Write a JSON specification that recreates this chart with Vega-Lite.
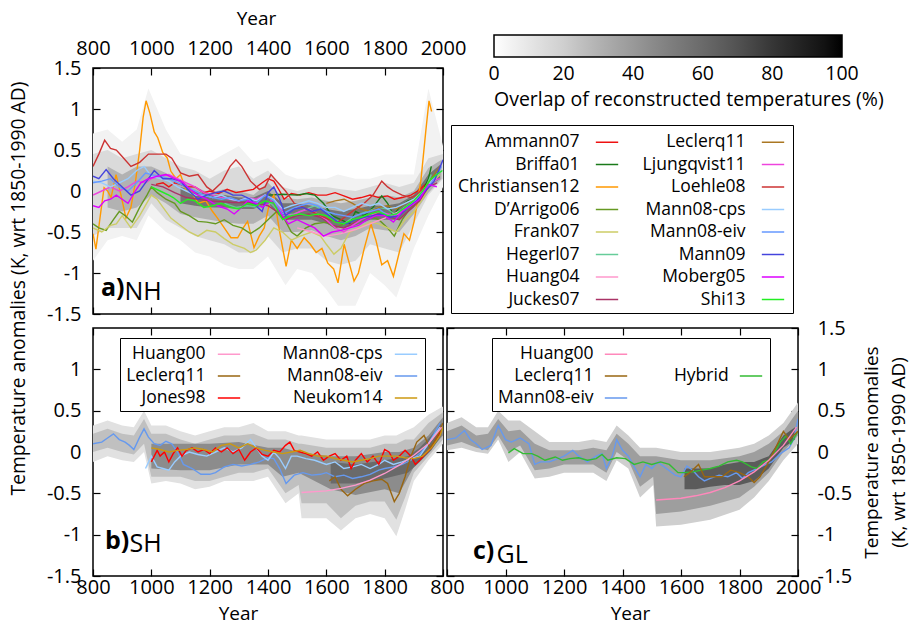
{
"$schema": "https://vega.github.io/schema/vega-lite/v6.json",
"background": "white",
"padding": {"left": 8, "top": 8, "right": 0, "bottom": 0},
"config": {
  "font": "Open Sans",
  "view": {"stroke": "black", "strokeWidth": 1.5},
  "axis": {"grid": false, "domain": false, "ticks": true, "tickColor": "black", "tickSize": -7, "tickWidth": 1.2,
    "labelFont": "Open Sans", "labelFontSize": 20, "labelColor": "black", "labelFlush": false, "labelOverlap": false, "labelBound": false,
    "titleFont": "Open Sans", "titleFontSize": 19, "titleFontWeight": "normal", "titleColor": "black", "titleLimit": 700},
  "legend": {"labelFont": "Open Sans", "titleFont": "Open Sans", "labelColor": "black", "titleColor": "black"},
  "title": {"font": "Open Sans", "color": "black"}
},
"datasets": {
"nhb": [
{"lev":"a","o":5,"x":800,"lo":-0.85,"hi":0.7},{"lev":"a","o":5,"x":850,"lo":-0.6,"hi":0.75},{"lev":"a","o":5,"x":900,"lo":-0.55,"hi":0.6},{"lev":"a","o":5,"x":950,"lo":-0.6,"hi":0.75},{"lev":"a","o":5,"x":990,"lo":-0.3,"hi":1.25},{"lev":"a","o":5,"x":1050,"lo":-0.5,"hi":0.75},{"lev":"a","o":5,"x":1100,"lo":-0.6,"hi":0.45},{"lev":"a","o":5,"x":1150,"lo":-0.75,"hi":0.4},{"lev":"a","o":5,"x":1200,"lo":-0.8,"hi":0.35},{"lev":"a","o":5,"x":1250,"lo":-0.9,"hi":0.45},{"lev":"a","o":5,"x":1300,"lo":-0.95,"hi":0.55},{"lev":"a","o":5,"x":1350,"lo":-0.95,"hi":0.35},{"lev":"a","o":5,"x":1400,"lo":-0.8,"hi":0.4},{"lev":"a","o":5,"x":1460,"lo":-1.15,"hi":0.2},{"lev":"a","o":5,"x":1500,"lo":-0.95,"hi":0.15},{"lev":"a","o":5,"x":1550,"lo":-1.0,"hi":0.15},{"lev":"a","o":5,"x":1600,"lo":-1.2,"hi":0.15},{"lev":"a","o":5,"x":1640,"lo":-1.4,"hi":0.2},{"lev":"a","o":5,"x":1700,"lo":-1.4,"hi":0.15},{"lev":"a","o":5,"x":1750,"lo":-1.0,"hi":0.15},{"lev":"a","o":5,"x":1800,"lo":-1.15,"hi":0.2},{"lev":"a","o":5,"x":1840,"lo":-1.3,"hi":0.2},{"lev":"a","o":5,"x":1900,"lo":-0.7,"hi":0.2},{"lev":"a","o":5,"x":1950,"lo":-0.3,"hi":1.25},{"lev":"a","o":5,"x":2000,"lo":0.05,"hi":0.55},
{"lev":"b","o":15,"x":800,"lo":-0.55,"hi":0.45},{"lev":"b","o":15,"x":850,"lo":-0.45,"hi":0.5},{"lev":"b","o":15,"x":900,"lo":-0.45,"hi":0.4},{"lev":"b","o":15,"x":950,"lo":-0.45,"hi":0.45},{"lev":"b","o":15,"x":1000,"lo":-0.15,"hi":0.5},{"lev":"b","o":15,"x":1050,"lo":-0.35,"hi":0.4},{"lev":"b","o":15,"x":1100,"lo":-0.45,"hi":0.3},{"lev":"b","o":15,"x":1150,"lo":-0.55,"hi":0.25},{"lev":"b","o":15,"x":1200,"lo":-0.6,"hi":0.15},{"lev":"b","o":15,"x":1250,"lo":-0.65,"hi":0.25},{"lev":"b","o":15,"x":1300,"lo":-0.75,"hi":0.3},{"lev":"b","o":15,"x":1350,"lo":-0.75,"hi":0.15},{"lev":"b","o":15,"x":1400,"lo":-0.55,"hi":0.25},{"lev":"b","o":15,"x":1450,"lo":-0.75,"hi":0.05},{"lev":"b","o":15,"x":1500,"lo":-0.7,"hi":0.0},{"lev":"b","o":15,"x":1550,"lo":-0.7,"hi":0.05},{"lev":"b","o":15,"x":1600,"lo":-0.85,"hi":0.05},{"lev":"b","o":15,"x":1650,"lo":-0.9,"hi":0.02},{"lev":"b","o":15,"x":1700,"lo":-0.85,"hi":0.0},{"lev":"b","o":15,"x":1750,"lo":-0.65,"hi":0.05},{"lev":"b","o":15,"x":1800,"lo":-0.7,"hi":0.1},{"lev":"b","o":15,"x":1850,"lo":-0.75,"hi":0.05},{"lev":"b","o":15,"x":1900,"lo":-0.4,"hi":0.1},{"lev":"b","o":15,"x":1950,"lo":-0.05,"hi":0.4},{"lev":"b","o":15,"x":2000,"lo":0.15,"hi":0.45},
{"lev":"c","o":30,"x":850,"lo":-0.2,"hi":0.3},{"lev":"c","o":30,"x":900,"lo":-0.25,"hi":0.2},{"lev":"c","o":30,"x":950,"lo":-0.2,"hi":0.3},{"lev":"c","o":30,"x":1000,"lo":-0.05,"hi":0.3},{"lev":"c","o":30,"x":1050,"lo":-0.15,"hi":0.22},{"lev":"c","o":30,"x":1100,"lo":-0.28,"hi":0.12},{"lev":"c","o":30,"x":1150,"lo":-0.32,"hi":0.05},{"lev":"c","o":30,"x":1200,"lo":-0.35,"hi":-0.02},{"lev":"c","o":30,"x":1250,"lo":-0.38,"hi":0.02},{"lev":"c","o":30,"x":1300,"lo":-0.4,"hi":0.0},{"lev":"c","o":30,"x":1350,"lo":-0.4,"hi":-0.05},{"lev":"c","o":30,"x":1400,"lo":-0.3,"hi":0.1},{"lev":"c","o":30,"x":1450,"lo":-0.5,"hi":-0.08},{"lev":"c","o":30,"x":1500,"lo":-0.5,"hi":-0.1},{"lev":"c","o":30,"x":1550,"lo":-0.48,"hi":-0.08},{"lev":"c","o":30,"x":1600,"lo":-0.55,"hi":-0.12},{"lev":"c","o":30,"x":1650,"lo":-0.6,"hi":-0.15},{"lev":"c","o":30,"x":1700,"lo":-0.55,"hi":-0.12},{"lev":"c","o":30,"x":1750,"lo":-0.45,"hi":-0.08},{"lev":"c","o":30,"x":1800,"lo":-0.48,"hi":-0.05},{"lev":"c","o":30,"x":1850,"lo":-0.5,"hi":-0.08},{"lev":"c","o":30,"x":1900,"lo":-0.28,"hi":0.0},{"lev":"c","o":30,"x":1950,"lo":-0.02,"hi":0.28},{"lev":"c","o":30,"x":1995,"lo":0.15,"hi":0.38},
{"lev":"d","o":55,"x":1100,"lo":-0.15,"hi":0.05},{"lev":"d","o":55,"x":1150,"lo":-0.18,"hi":0.0},{"lev":"d","o":55,"x":1200,"lo":-0.2,"hi":-0.05},{"lev":"d","o":55,"x":1250,"lo":-0.2,"hi":-0.05},{"lev":"d","o":55,"x":1300,"lo":-0.22,"hi":-0.08},{"lev":"d","o":55,"x":1350,"lo":-0.22,"hi":-0.08},{"lev":"d","o":55,"x":1400,"lo":-0.15,"hi":0.0},{"lev":"d","o":55,"x":1450,"lo":-0.35,"hi":-0.15},{"lev":"d","o":55,"x":1500,"lo":-0.35,"hi":-0.15},{"lev":"d","o":55,"x":1550,"lo":-0.35,"hi":-0.18},{"lev":"d","o":55,"x":1600,"lo":-0.4,"hi":-0.22},{"lev":"d","o":55,"x":1650,"lo":-0.45,"hi":-0.25},{"lev":"d","o":55,"x":1700,"lo":-0.42,"hi":-0.22},{"lev":"d","o":55,"x":1750,"lo":-0.35,"hi":-0.18},{"lev":"d","o":55,"x":1800,"lo":-0.35,"hi":-0.18},{"lev":"d","o":55,"x":1850,"lo":-0.35,"hi":-0.15},{"lev":"d","o":55,"x":1900,"lo":-0.2,"hi":-0.05},{"lev":"d","o":55,"x":1950,"lo":0.05,"hi":0.2},{"lev":"d","o":55,"x":1990,"lo":0.15,"hi":0.32}
],
"nh": [
{"s":"Ammann07","x":1016,"y":0.08},{"s":"Ammann07","x":1040,"y":0.1},{"s":"Ammann07","x":1060,"y":0.05},{"s":"Ammann07","x":1080,"y":0.1},{"s":"Ammann07","x":1100,"y":0.08},{"s":"Ammann07","x":1120,"y":0.05},{"s":"Ammann07","x":1150,"y":0.05},{"s":"Ammann07","x":1180,"y":-0.02},{"s":"Ammann07","x":1200,"y":0},{"s":"Ammann07","x":1230,"y":-0.03},{"s":"Ammann07","x":1260,"y":0.02},{"s":"Ammann07","x":1290,"y":-0.02},{"s":"Ammann07","x":1320,"y":0},{"s":"Ammann07","x":1350,"y":0.02},{"s":"Ammann07","x":1380,"y":0.1},{"s":"Ammann07","x":1400,"y":0.15},{"s":"Ammann07","x":1420,"y":0.12},{"s":"Ammann07","x":1440,"y":0},{"s":"Ammann07","x":1455,"y":-0.1},{"s":"Ammann07","x":1480,"y":-0.03},{"s":"Ammann07","x":1510,"y":-0.05},{"s":"Ammann07","x":1540,"y":-0.02},{"s":"Ammann07","x":1570,"y":-0.05},{"s":"Ammann07","x":1600,"y":-0.05},{"s":"Ammann07","x":1630,"y":-0.02},{"s":"Ammann07","x":1660,"y":-0.06},{"s":"Ammann07","x":1690,"y":-0.1},{"s":"Ammann07","x":1720,"y":-0.08},{"s":"Ammann07","x":1750,"y":-0.05},{"s":"Ammann07","x":1780,"y":-0.08},{"s":"Ammann07","x":1810,"y":-0.06},{"s":"Ammann07","x":1833,"y":-0.1},{"s":"Ammann07","x":1860,"y":-0.08},{"s":"Ammann07","x":1890,"y":-0.05},{"s":"Ammann07","x":1913,"y":0},{"s":"Ammann07","x":1940,"y":0.08},{"s":"Ammann07","x":1960,"y":0.12},{"s":"Ammann07","x":1980,"y":0.2},
{"s":"Briffa01","x":1402,"y":-0.05},{"s":"Briffa01","x":1450,"y":-0.04},{"s":"Briffa01","x":1500,"y":-0.05},{"s":"Briffa01","x":1530,"y":-0.03},{"s":"Briffa01","x":1560,"y":-0.05},{"s":"Briffa01","x":1590,"y":-0.15},{"s":"Briffa01","x":1620,"y":-0.3},{"s":"Briffa01","x":1650,"y":-0.35},{"s":"Briffa01","x":1680,"y":-0.4},{"s":"Briffa01","x":1700,"y":-0.25},{"s":"Briffa01","x":1730,"y":-0.3},{"s":"Briffa01","x":1760,"y":-0.2},{"s":"Briffa01","x":1790,"y":-0.06},{"s":"Briffa01","x":1810,"y":-0.15},{"s":"Briffa01","x":1830,"y":-0.3},{"s":"Briffa01","x":1850,"y":-0.2},{"s":"Briffa01","x":1880,"y":-0.12},{"s":"Briffa01","x":1900,"y":-0.1},{"s":"Briffa01","x":1930,"y":0},{"s":"Briffa01","x":1950,"y":0.15},{"s":"Briffa01","x":1960,"y":0.3},
{"s":"Christiansen12","x":800,"y":-0.52},{"s":"Christiansen12","x":810,"y":-0.71},{"s":"Christiansen12","x":825,"y":-0.3},{"s":"Christiansen12","x":838,"y":0.04},{"s":"Christiansen12","x":850,"y":0},{"s":"Christiansen12","x":862,"y":-0.08},{"s":"Christiansen12","x":879,"y":0.2},{"s":"Christiansen12","x":896,"y":-0.05},{"s":"Christiansen12","x":913,"y":-0.33},{"s":"Christiansen12","x":930,"y":-0.2},{"s":"Christiansen12","x":945,"y":0.1},{"s":"Christiansen12","x":960,"y":0.5},{"s":"Christiansen12","x":972,"y":0.9},{"s":"Christiansen12","x":982,"y":1.1},{"s":"Christiansen12","x":995,"y":0.95},{"s":"Christiansen12","x":1010,"y":0.72},{"s":"Christiansen12","x":1022,"y":0.65},{"s":"Christiansen12","x":1039,"y":0.47},{"s":"Christiansen12","x":1055,"y":0.4},{"s":"Christiansen12","x":1067,"y":0.24},{"s":"Christiansen12","x":1085,"y":0.15},{"s":"Christiansen12","x":1100,"y":0.2},{"s":"Christiansen12","x":1120,"y":0},{"s":"Christiansen12","x":1136,"y":0},{"s":"Christiansen12","x":1160,"y":-0.15},{"s":"Christiansen12","x":1187,"y":-0.12},{"s":"Christiansen12","x":1210,"y":-0.25},{"s":"Christiansen12","x":1227,"y":-0.33},{"s":"Christiansen12","x":1250,"y":-0.45},{"s":"Christiansen12","x":1273,"y":-0.57},{"s":"Christiansen12","x":1296,"y":-0.57},{"s":"Christiansen12","x":1315,"y":-0.45},{"s":"Christiansen12","x":1330,"y":-0.37},{"s":"Christiansen12","x":1352,"y":-0.69},{"s":"Christiansen12","x":1370,"y":-0.55},{"s":"Christiansen12","x":1387,"y":-0.45},{"s":"Christiansen12","x":1405,"y":-0.15},{"s":"Christiansen12","x":1420,"y":-0.05},{"s":"Christiansen12","x":1440,"y":-0.5},{"s":"Christiansen12","x":1462,"y":-0.92},{"s":"Christiansen12","x":1480,"y":-0.6},{"s":"Christiansen12","x":1500,"y":-0.7},{"s":"Christiansen12","x":1524,"y":-0.57},{"s":"Christiansen12","x":1545,"y":-0.65},{"s":"Christiansen12","x":1565,"y":-0.75},{"s":"Christiansen12","x":1585,"y":-0.7},{"s":"Christiansen12","x":1605,"y":-0.88},{"s":"Christiansen12","x":1625,"y":-0.95},{"s":"Christiansen12","x":1640,"y":-1.12},{"s":"Christiansen12","x":1661,"y":-0.65},{"s":"Christiansen12","x":1680,"y":-0.9},{"s":"Christiansen12","x":1695,"y":-1.1},{"s":"Christiansen12","x":1710,"y":-1.0},{"s":"Christiansen12","x":1730,"y":-0.7},{"s":"Christiansen12","x":1753,"y":-0.4},{"s":"Christiansen12","x":1770,"y":-0.6},{"s":"Christiansen12","x":1790,"y":-0.9},{"s":"Christiansen12","x":1810,"y":-0.85},{"s":"Christiansen12","x":1830,"y":-1.04},{"s":"Christiansen12","x":1850,"y":-0.75},{"s":"Christiansen12","x":1866,"y":-0.52},{"s":"Christiansen12","x":1885,"y":-0.6},{"s":"Christiansen12","x":1901,"y":-0.37},{"s":"Christiansen12","x":1924,"y":0.12},{"s":"Christiansen12","x":1941,"y":0.73},{"s":"Christiansen12","x":1952,"y":1.1},{"s":"Christiansen12","x":1961,"y":0.97},
{"s":"D’Arrigo06","x":800,"y":-0.4},{"s":"D’Arrigo06","x":820,"y":-0.45},{"s":"D’Arrigo06","x":845,"y":-0.48},{"s":"D’Arrigo06","x":870,"y":-0.35},{"s":"D’Arrigo06","x":890,"y":-0.25},{"s":"D’Arrigo06","x":910,"y":-0.3},{"s":"D’Arrigo06","x":935,"y":-0.38},{"s":"D’Arrigo06","x":960,"y":-0.2},{"s":"D’Arrigo06","x":985,"y":-0.05},{"s":"D’Arrigo06","x":1000,"y":0.05},{"s":"D’Arrigo06","x":1020,"y":-0.02},{"s":"D’Arrigo06","x":1050,"y":-0.1},{"s":"D’Arrigo06","x":1080,"y":-0.15},{"s":"D’Arrigo06","x":1100,"y":-0.25},{"s":"D’Arrigo06","x":1130,"y":-0.3},{"s":"D’Arrigo06","x":1160,"y":-0.37},{"s":"D’Arrigo06","x":1190,"y":-0.38},{"s":"D’Arrigo06","x":1220,"y":-0.4},{"s":"D’Arrigo06","x":1250,"y":-0.35},{"s":"D’Arrigo06","x":1280,"y":-0.42},{"s":"D’Arrigo06","x":1310,"y":-0.45},{"s":"D’Arrigo06","x":1340,"y":-0.52},{"s":"D’Arrigo06","x":1370,"y":-0.45},{"s":"D’Arrigo06","x":1400,"y":-0.35},{"s":"D’Arrigo06","x":1430,"y":-0.25},{"s":"D’Arrigo06","x":1450,"y":-0.3},{"s":"D’Arrigo06","x":1480,"y":-0.5},{"s":"D’Arrigo06","x":1500,"y":-0.55},{"s":"D’Arrigo06","x":1530,"y":-0.45},{"s":"D’Arrigo06","x":1560,"y":-0.4},{"s":"D’Arrigo06","x":1600,"y":-0.38},{"s":"D’Arrigo06","x":1630,"y":-0.45},{"s":"D’Arrigo06","x":1660,"y":-0.4},{"s":"D’Arrigo06","x":1700,"y":-0.35},{"s":"D’Arrigo06","x":1740,"y":-0.3},{"s":"D’Arrigo06","x":1780,"y":-0.35},{"s":"D’Arrigo06","x":1810,"y":-0.45},{"s":"D’Arrigo06","x":1833,"y":-0.55},{"s":"D’Arrigo06","x":1860,"y":-0.35},{"s":"D’Arrigo06","x":1890,"y":-0.2},{"s":"D’Arrigo06","x":1920,"y":-0.1},{"s":"D’Arrigo06","x":1950,"y":0.1},{"s":"D’Arrigo06","x":1985,"y":0.25},
{"s":"Frank07","x":800,"y":-0.45},{"s":"Frank07","x":830,"y":-0.5},{"s":"Frank07","x":860,"y":-0.42},{"s":"Frank07","x":880,"y":-0.4},{"s":"Frank07","x":900,"y":-0.3},{"s":"Frank07","x":930,"y":-0.45},{"s":"Frank07","x":960,"y":-0.3},{"s":"Frank07","x":1000,"y":-0.05},{"s":"Frank07","x":1020,"y":-0.1},{"s":"Frank07","x":1040,"y":-0.2},{"s":"Frank07","x":1067,"y":-0.33},{"s":"Frank07","x":1100,"y":-0.42},{"s":"Frank07","x":1130,"y":-0.5},{"s":"Frank07","x":1160,"y":-0.55},{"s":"Frank07","x":1190,"y":-0.48},{"s":"Frank07","x":1220,"y":-0.5},{"s":"Frank07","x":1250,"y":-0.58},{"s":"Frank07","x":1280,"y":-0.65},{"s":"Frank07","x":1319,"y":-0.7},{"s":"Frank07","x":1340,"y":-0.75},{"s":"Frank07","x":1360,"y":-0.72},{"s":"Frank07","x":1390,"y":-0.6},{"s":"Frank07","x":1420,"y":-0.45},{"s":"Frank07","x":1450,"y":-0.5},{"s":"Frank07","x":1480,"y":-0.6},{"s":"Frank07","x":1510,"y":-0.55},{"s":"Frank07","x":1550,"y":-0.5},{"s":"Frank07","x":1580,"y":-0.55},{"s":"Frank07","x":1600,"y":-0.65},{"s":"Frank07","x":1626,"y":-0.77},{"s":"Frank07","x":1650,"y":-0.7},{"s":"Frank07","x":1680,"y":-0.5},{"s":"Frank07","x":1710,"y":-0.45},{"s":"Frank07","x":1750,"y":-0.38},{"s":"Frank07","x":1780,"y":-0.4},{"s":"Frank07","x":1810,"y":-0.45},{"s":"Frank07","x":1840,"y":-0.5},{"s":"Frank07","x":1870,"y":-0.35},{"s":"Frank07","x":1900,"y":-0.25},{"s":"Frank07","x":1930,"y":-0.1},{"s":"Frank07","x":1960,"y":0.1},{"s":"Frank07","x":1990,"y":0.2},
{"s":"Hegerl07","x":1251,"y":-0.15},{"s":"Hegerl07","x":1290,"y":-0.2},{"s":"Hegerl07","x":1330,"y":-0.18},{"s":"Hegerl07","x":1370,"y":-0.2},{"s":"Hegerl07","x":1410,"y":-0.15},{"s":"Hegerl07","x":1450,"y":-0.3},{"s":"Hegerl07","x":1490,"y":-0.28},{"s":"Hegerl07","x":1530,"y":-0.22},{"s":"Hegerl07","x":1560,"y":-0.18},{"s":"Hegerl07","x":1600,"y":-0.25},{"s":"Hegerl07","x":1630,"y":-0.35},{"s":"Hegerl07","x":1660,"y":-0.4},{"s":"Hegerl07","x":1700,"y":-0.3},{"s":"Hegerl07","x":1740,"y":-0.25},{"s":"Hegerl07","x":1780,"y":-0.2},{"s":"Hegerl07","x":1810,"y":-0.22},{"s":"Hegerl07","x":1840,"y":-0.3},{"s":"Hegerl07","x":1870,"y":-0.2},{"s":"Hegerl07","x":1900,"y":-0.15},{"s":"Hegerl07","x":1930,"y":-0.05},{"s":"Hegerl07","x":1960,"y":0.2},
{"s":"Huang04","x":1500,"y":-0.45},{"s":"Huang04","x":1550,"y":-0.5},{"s":"Huang04","x":1600,"y":-0.55},{"s":"Huang04","x":1650,"y":-0.52},{"s":"Huang04","x":1700,"y":-0.47},{"s":"Huang04","x":1750,"y":-0.4},{"s":"Huang04","x":1800,"y":-0.33},{"s":"Huang04","x":1850,"y":-0.25},{"s":"Huang04","x":1900,"y":-0.12},{"s":"Huang04","x":1950,"y":0.05},{"s":"Huang04","x":1980,"y":0.15},
{"s":"Juckes07","x":1000,"y":0.08},{"s":"Juckes07","x":1040,"y":0.05},{"s":"Juckes07","x":1080,"y":-0.02},{"s":"Juckes07","x":1120,"y":-0.08},{"s":"Juckes07","x":1160,"y":-0.1},{"s":"Juckes07","x":1200,"y":-0.12},{"s":"Juckes07","x":1240,"y":-0.13},{"s":"Juckes07","x":1280,"y":-0.14},{"s":"Juckes07","x":1320,"y":-0.14},{"s":"Juckes07","x":1360,"y":-0.15},{"s":"Juckes07","x":1400,"y":-0.18},{"s":"Juckes07","x":1430,"y":-0.25},{"s":"Juckes07","x":1460,"y":-0.35},{"s":"Juckes07","x":1500,"y":-0.3},{"s":"Juckes07","x":1540,"y":-0.28},{"s":"Juckes07","x":1580,"y":-0.32},{"s":"Juckes07","x":1620,"y":-0.42},{"s":"Juckes07","x":1660,"y":-0.45},{"s":"Juckes07","x":1700,"y":-0.38},{"s":"Juckes07","x":1740,"y":-0.3},{"s":"Juckes07","x":1780,"y":-0.28},{"s":"Juckes07","x":1820,"y":-0.32},{"s":"Juckes07","x":1850,"y":-0.35},{"s":"Juckes07","x":1880,"y":-0.25},{"s":"Juckes07","x":1920,"y":-0.12},{"s":"Juckes07","x":1950,"y":0.05},{"s":"Juckes07","x":1980,"y":0.1},
{"s":"Leclerq11","x":1600,"y":-0.15},{"s":"Leclerq11","x":1630,"y":-0.12},{"s":"Leclerq11","x":1661,"y":-0.1},{"s":"Leclerq11","x":1690,"y":-0.15},{"s":"Leclerq11","x":1720,"y":-0.22},{"s":"Leclerq11","x":1750,"y":-0.25},{"s":"Leclerq11","x":1780,"y":-0.2},{"s":"Leclerq11","x":1810,"y":-0.18},{"s":"Leclerq11","x":1840,"y":-0.22},{"s":"Leclerq11","x":1870,"y":-0.15},{"s":"Leclerq11","x":1900,"y":-0.1},{"s":"Leclerq11","x":1930,"y":0},{"s":"Leclerq11","x":1960,"y":0.15},{"s":"Leclerq11","x":1990,"y":0.3},
{"s":"Ljungqvist11","x":800,"y":-0.05},{"s":"Ljungqvist11","x":830,"y":0},{"s":"Ljungqvist11","x":860,"y":0.05},{"s":"Ljungqvist11","x":890,"y":0},{"s":"Ljungqvist11","x":920,"y":0.05},{"s":"Ljungqvist11","x":950,"y":0.12},{"s":"Ljungqvist11","x":980,"y":0.1},{"s":"Ljungqvist11","x":1000,"y":0.15},{"s":"Ljungqvist11","x":1030,"y":0.18},{"s":"Ljungqvist11","x":1060,"y":0.2},{"s":"Ljungqvist11","x":1090,"y":0.15},{"s":"Ljungqvist11","x":1120,"y":0.1},{"s":"Ljungqvist11","x":1150,"y":0.05},{"s":"Ljungqvist11","x":1180,"y":-0.02},{"s":"Ljungqvist11","x":1210,"y":-0.05},{"s":"Ljungqvist11","x":1240,"y":-0.08},{"s":"Ljungqvist11","x":1270,"y":-0.1},{"s":"Ljungqvist11","x":1300,"y":-0.12},{"s":"Ljungqvist11","x":1330,"y":-0.08},{"s":"Ljungqvist11","x":1360,"y":-0.1},{"s":"Ljungqvist11","x":1390,"y":-0.05},{"s":"Ljungqvist11","x":1420,"y":-0.1},{"s":"Ljungqvist11","x":1450,"y":-0.25},{"s":"Ljungqvist11","x":1480,"y":-0.3},{"s":"Ljungqvist11","x":1510,"y":-0.25},{"s":"Ljungqvist11","x":1540,"y":-0.22},{"s":"Ljungqvist11","x":1570,"y":-0.28},{"s":"Ljungqvist11","x":1600,"y":-0.35},{"s":"Ljungqvist11","x":1630,"y":-0.45},{"s":"Ljungqvist11","x":1660,"y":-0.5},{"s":"Ljungqvist11","x":1690,"y":-0.42},{"s":"Ljungqvist11","x":1720,"y":-0.35},{"s":"Ljungqvist11","x":1750,"y":-0.3},{"s":"Ljungqvist11","x":1780,"y":-0.25},{"s":"Ljungqvist11","x":1810,"y":-0.28},{"s":"Ljungqvist11","x":1840,"y":-0.3},{"s":"Ljungqvist11","x":1870,"y":-0.22},{"s":"Ljungqvist11","x":1900,"y":-0.15},{"s":"Ljungqvist11","x":1930,"y":0},{"s":"Ljungqvist11","x":1960,"y":0.12},{"s":"Ljungqvist11","x":1990,"y":0.15},
{"s":"Loehle08","x":800,"y":0.3},{"s":"Loehle08","x":820,"y":0.45},{"s":"Loehle08","x":840,"y":0.62},{"s":"Loehle08","x":860,"y":0.52},{"s":"Loehle08","x":880,"y":0.5},{"s":"Loehle08","x":900,"y":0.42},{"s":"Loehle08","x":930,"y":0.3},{"s":"Loehle08","x":960,"y":0.35},{"s":"Loehle08","x":990,"y":0.45},{"s":"Loehle08","x":1020,"y":0.45},{"s":"Loehle08","x":1050,"y":0.45},{"s":"Loehle08","x":1070,"y":0.4},{"s":"Loehle08","x":1100,"y":0.22},{"s":"Loehle08","x":1130,"y":0.18},{"s":"Loehle08","x":1160,"y":0.2},{"s":"Loehle08","x":1190,"y":0.05},{"s":"Loehle08","x":1210,"y":0},{"s":"Loehle08","x":1240,"y":0.1},{"s":"Loehle08","x":1270,"y":0.3},{"s":"Loehle08","x":1290,"y":0.38},{"s":"Loehle08","x":1310,"y":0.3},{"s":"Loehle08","x":1340,"y":0.12},{"s":"Loehle08","x":1370,"y":0.02},{"s":"Loehle08","x":1390,"y":0.05},{"s":"Loehle08","x":1410,"y":0.2},{"s":"Loehle08","x":1430,"y":0.12},{"s":"Loehle08","x":1460,"y":0},{"s":"Loehle08","x":1490,"y":-0.15},{"s":"Loehle08","x":1520,"y":-0.2},{"s":"Loehle08","x":1550,"y":-0.25},{"s":"Loehle08","x":1580,"y":-0.3},{"s":"Loehle08","x":1610,"y":-0.35},{"s":"Loehle08","x":1640,"y":-0.38},{"s":"Loehle08","x":1670,"y":-0.3},{"s":"Loehle08","x":1700,"y":-0.22},{"s":"Loehle08","x":1730,"y":-0.15},{"s":"Loehle08","x":1760,"y":-0.05},{"s":"Loehle08","x":1790,"y":0.12},{"s":"Loehle08","x":1810,"y":0.05},{"s":"Loehle08","x":1830,"y":0},{"s":"Loehle08","x":1860,"y":-0.05},{"s":"Loehle08","x":1890,"y":-0.08},{"s":"Loehle08","x":1910,"y":-0.05},{"s":"Loehle08","x":1935,"y":0.05},
{"s":"Mann08-cps","x":800,"y":0.12},{"s":"Mann08-cps","x":830,"y":0.1},{"s":"Mann08-cps","x":860,"y":0.05},{"s":"Mann08-cps","x":890,"y":0.1},{"s":"Mann08-cps","x":920,"y":0.15},{"s":"Mann08-cps","x":950,"y":0.25},{"s":"Mann08-cps","x":975,"y":0.3},{"s":"Mann08-cps","x":1000,"y":0.18},{"s":"Mann08-cps","x":1030,"y":0.15},{"s":"Mann08-cps","x":1060,"y":0.12},{"s":"Mann08-cps","x":1090,"y":0.05},{"s":"Mann08-cps","x":1120,"y":0},{"s":"Mann08-cps","x":1150,"y":-0.05},{"s":"Mann08-cps","x":1180,"y":-0.05},{"s":"Mann08-cps","x":1210,"y":-0.08},{"s":"Mann08-cps","x":1240,"y":-0.05},{"s":"Mann08-cps","x":1270,"y":-0.1},{"s":"Mann08-cps","x":1300,"y":-0.12},{"s":"Mann08-cps","x":1330,"y":-0.08},{"s":"Mann08-cps","x":1360,"y":-0.12},{"s":"Mann08-cps","x":1390,"y":-0.05},{"s":"Mann08-cps","x":1420,"y":-0.1},{"s":"Mann08-cps","x":1450,"y":-0.22},{"s":"Mann08-cps","x":1480,"y":-0.18},{"s":"Mann08-cps","x":1510,"y":-0.15},{"s":"Mann08-cps","x":1540,"y":-0.12},{"s":"Mann08-cps","x":1570,"y":-0.15},{"s":"Mann08-cps","x":1600,"y":-0.2},{"s":"Mann08-cps","x":1630,"y":-0.2},{"s":"Mann08-cps","x":1660,"y":-0.25},{"s":"Mann08-cps","x":1690,"y":-0.2},{"s":"Mann08-cps","x":1720,"y":-0.15},{"s":"Mann08-cps","x":1750,"y":-0.18},{"s":"Mann08-cps","x":1780,"y":-0.15},{"s":"Mann08-cps","x":1810,"y":-0.22},{"s":"Mann08-cps","x":1840,"y":-0.2},{"s":"Mann08-cps","x":1870,"y":-0.15},{"s":"Mann08-cps","x":1900,"y":-0.1},{"s":"Mann08-cps","x":1930,"y":0},{"s":"Mann08-cps","x":1960,"y":0.12},{"s":"Mann08-cps","x":1995,"y":0.25},
{"s":"Mann08-eiv","x":800,"y":0.1},{"s":"Mann08-eiv","x":830,"y":0.12},{"s":"Mann08-eiv","x":860,"y":0.15},{"s":"Mann08-eiv","x":890,"y":0.05},{"s":"Mann08-eiv","x":920,"y":0},{"s":"Mann08-eiv","x":950,"y":0.1},{"s":"Mann08-eiv","x":980,"y":0.22},{"s":"Mann08-eiv","x":1000,"y":0.2},{"s":"Mann08-eiv","x":1030,"y":0.18},{"s":"Mann08-eiv","x":1060,"y":0.15},{"s":"Mann08-eiv","x":1090,"y":0.1},{"s":"Mann08-eiv","x":1120,"y":0.05},{"s":"Mann08-eiv","x":1150,"y":0},{"s":"Mann08-eiv","x":1180,"y":-0.05},{"s":"Mann08-eiv","x":1210,"y":-0.08},{"s":"Mann08-eiv","x":1240,"y":-0.1},{"s":"Mann08-eiv","x":1270,"y":-0.08},{"s":"Mann08-eiv","x":1300,"y":-0.12},{"s":"Mann08-eiv","x":1330,"y":-0.1},{"s":"Mann08-eiv","x":1360,"y":-0.15},{"s":"Mann08-eiv","x":1390,"y":-0.05},{"s":"Mann08-eiv","x":1420,"y":-0.12},{"s":"Mann08-eiv","x":1450,"y":-0.28},{"s":"Mann08-eiv","x":1480,"y":-0.22},{"s":"Mann08-eiv","x":1510,"y":-0.18},{"s":"Mann08-eiv","x":1540,"y":-0.15},{"s":"Mann08-eiv","x":1570,"y":-0.18},{"s":"Mann08-eiv","x":1600,"y":-0.25},{"s":"Mann08-eiv","x":1630,"y":-0.28},{"s":"Mann08-eiv","x":1660,"y":-0.3},{"s":"Mann08-eiv","x":1690,"y":-0.32},{"s":"Mann08-eiv","x":1720,"y":-0.28},{"s":"Mann08-eiv","x":1750,"y":-0.25},{"s":"Mann08-eiv","x":1780,"y":-0.22},{"s":"Mann08-eiv","x":1810,"y":-0.3},{"s":"Mann08-eiv","x":1840,"y":-0.28},{"s":"Mann08-eiv","x":1870,"y":-0.2},{"s":"Mann08-eiv","x":1900,"y":-0.15},{"s":"Mann08-eiv","x":1930,"y":-0.02},{"s":"Mann08-eiv","x":1960,"y":0.1},{"s":"Mann08-eiv","x":1995,"y":0.3},
{"s":"Mann09","x":800,"y":0.18},{"s":"Mann09","x":820,"y":0.15},{"s":"Mann09","x":845,"y":0.26},{"s":"Mann09","x":870,"y":0.15},{"s":"Mann09","x":900,"y":0.05},{"s":"Mann09","x":930,"y":-0.05},{"s":"Mann09","x":960,"y":0},{"s":"Mann09","x":990,"y":0.15},{"s":"Mann09","x":1010,"y":0.25},{"s":"Mann09","x":1040,"y":0.15},{"s":"Mann09","x":1070,"y":0.15},{"s":"Mann09","x":1100,"y":0.12},{"s":"Mann09","x":1130,"y":0},{"s":"Mann09","x":1160,"y":-0.1},{"s":"Mann09","x":1190,"y":-0.05},{"s":"Mann09","x":1220,"y":-0.02},{"s":"Mann09","x":1250,"y":0},{"s":"Mann09","x":1280,"y":-0.05},{"s":"Mann09","x":1310,"y":-0.05},{"s":"Mann09","x":1340,"y":-0.1},{"s":"Mann09","x":1365,"y":-0.2},{"s":"Mann09","x":1380,"y":-0.25},{"s":"Mann09","x":1400,"y":-0.02},{"s":"Mann09","x":1420,"y":0.05},{"s":"Mann09","x":1440,"y":-0.1},{"s":"Mann09","x":1460,"y":-0.3},{"s":"Mann09","x":1490,"y":-0.22},{"s":"Mann09","x":1520,"y":-0.2},{"s":"Mann09","x":1550,"y":-0.25},{"s":"Mann09","x":1580,"y":-0.22},{"s":"Mann09","x":1610,"y":-0.3},{"s":"Mann09","x":1640,"y":-0.38},{"s":"Mann09","x":1670,"y":-0.4},{"s":"Mann09","x":1700,"y":-0.35},{"s":"Mann09","x":1730,"y":-0.32},{"s":"Mann09","x":1760,"y":-0.3},{"s":"Mann09","x":1790,"y":-0.28},{"s":"Mann09","x":1820,"y":-0.32},{"s":"Mann09","x":1850,"y":-0.3},{"s":"Mann09","x":1880,"y":-0.2},{"s":"Mann09","x":1910,"y":-0.12},{"s":"Mann09","x":1940,"y":0},{"s":"Mann09","x":1970,"y":0.12},{"s":"Mann09","x":2000,"y":0.38},
{"s":"Moberg05","x":800,"y":-0.18},{"s":"Moberg05","x":820,"y":-0.2},{"s":"Moberg05","x":840,"y":-0.12},{"s":"Moberg05","x":860,"y":-0.1},{"s":"Moberg05","x":880,"y":-0.05},{"s":"Moberg05","x":900,"y":-0.1},{"s":"Moberg05","x":920,"y":-0.15},{"s":"Moberg05","x":945,"y":0},{"s":"Moberg05","x":964,"y":0.1},{"s":"Moberg05","x":990,"y":0.15},{"s":"Moberg05","x":1020,"y":0.18},{"s":"Moberg05","x":1050,"y":0.2},{"s":"Moberg05","x":1080,"y":0.15},{"s":"Moberg05","x":1110,"y":0.1},{"s":"Moberg05","x":1136,"y":0.01},{"s":"Moberg05","x":1160,"y":-0.05},{"s":"Moberg05","x":1190,"y":-0.1},{"s":"Moberg05","x":1227,"y":-0.18},{"s":"Moberg05","x":1260,"y":-0.22},{"s":"Moberg05","x":1284,"y":-0.28},{"s":"Moberg05","x":1310,"y":-0.2},{"s":"Moberg05","x":1330,"y":-0.12},{"s":"Moberg05","x":1360,"y":-0.15},{"s":"Moberg05","x":1380,"y":-0.2},{"s":"Moberg05","x":1410,"y":-0.12},{"s":"Moberg05","x":1440,"y":-0.25},{"s":"Moberg05","x":1470,"y":-0.4},{"s":"Moberg05","x":1500,"y":-0.35},{"s":"Moberg05","x":1530,"y":-0.4},{"s":"Moberg05","x":1560,"y":-0.45},{"s":"Moberg05","x":1590,"y":-0.55},{"s":"Moberg05","x":1620,"y":-0.5},{"s":"Moberg05","x":1650,"y":-0.48},{"s":"Moberg05","x":1680,"y":-0.45},{"s":"Moberg05","x":1710,"y":-0.42},{"s":"Moberg05","x":1740,"y":-0.35},{"s":"Moberg05","x":1770,"y":-0.3},{"s":"Moberg05","x":1800,"y":-0.3},{"s":"Moberg05","x":1830,"y":-0.38},{"s":"Moberg05","x":1860,"y":-0.25},{"s":"Moberg05","x":1890,"y":-0.18},{"s":"Moberg05","x":1920,"y":-0.1},{"s":"Moberg05","x":1950,"y":0.08},{"s":"Moberg05","x":1979,"y":0.05},
{"s":"Shi13","x":1000,"y":0.05},{"s":"Shi13","x":1030,"y":0},{"s":"Shi13","x":1060,"y":-0.05},{"s":"Shi13","x":1075,"y":-0.08},{"s":"Shi13","x":1100,"y":-0.15},{"s":"Shi13","x":1125,"y":-0.1},{"s":"Shi13","x":1150,"y":-0.12},{"s":"Shi13","x":1180,"y":-0.2},{"s":"Shi13","x":1210,"y":-0.18},{"s":"Shi13","x":1240,"y":-0.15},{"s":"Shi13","x":1270,"y":-0.2},{"s":"Shi13","x":1300,"y":-0.22},{"s":"Shi13","x":1330,"y":-0.15},{"s":"Shi13","x":1360,"y":-0.18},{"s":"Shi13","x":1390,"y":-0.12},{"s":"Shi13","x":1420,"y":-0.15},{"s":"Shi13","x":1450,"y":-0.35},{"s":"Shi13","x":1480,"y":-0.3},{"s":"Shi13","x":1510,"y":-0.28},{"s":"Shi13","x":1540,"y":-0.3},{"s":"Shi13","x":1570,"y":-0.28},{"s":"Shi13","x":1600,"y":-0.3},{"s":"Shi13","x":1630,"y":-0.38},{"s":"Shi13","x":1660,"y":-0.4},{"s":"Shi13","x":1690,"y":-0.35},{"s":"Shi13","x":1720,"y":-0.32},{"s":"Shi13","x":1750,"y":-0.28},{"s":"Shi13","x":1780,"y":-0.25},{"s":"Shi13","x":1810,"y":-0.3},{"s":"Shi13","x":1840,"y":-0.28},{"s":"Shi13","x":1870,"y":-0.2},{"s":"Shi13","x":1900,"y":-0.12},{"s":"Shi13","x":1930,"y":0},{"s":"Shi13","x":1960,"y":0.15},{"s":"Shi13","x":1998,"y":0.25}
],
"shb": [
{"lev":"a","o":12,"x":800,"lo":-0.12,"hi":0.32},{"lev":"a","o":12,"x":850,"lo":-0.05,"hi":0.38},{"lev":"a","o":12,"x":900,"lo":-0.1,"hi":0.32},{"lev":"a","o":12,"x":940,"lo":-0.12,"hi":0.3},{"lev":"a","o":12,"x":975,"lo":0.0,"hi":0.5},{"lev":"a","o":12,"x":1000,"lo":-0.38,"hi":0.32},{"lev":"a","o":12,"x":1050,"lo":-0.35,"hi":0.32},{"lev":"a","o":12,"x":1100,"lo":-0.38,"hi":0.25},{"lev":"a","o":12,"x":1150,"lo":-0.45,"hi":0.2},{"lev":"a","o":12,"x":1200,"lo":-0.42,"hi":0.25},{"lev":"a","o":12,"x":1250,"lo":-0.35,"hi":0.3},{"lev":"a","o":12,"x":1300,"lo":-0.35,"hi":0.3},{"lev":"a","o":12,"x":1350,"lo":-0.35,"hi":0.35},{"lev":"a","o":12,"x":1400,"lo":-0.3,"hi":0.25},{"lev":"a","o":12,"x":1460,"lo":-0.62,"hi":0.25},{"lev":"a","o":12,"x":1505,"lo":-0.5,"hi":0.2},{"lev":"a","o":12,"x":1515,"lo":-0.8,"hi":0.2},{"lev":"a","o":12,"x":1600,"lo":-0.8,"hi":0.15},{"lev":"a","o":12,"x":1650,"lo":-0.95,"hi":0.15},{"lev":"a","o":12,"x":1700,"lo":-0.8,"hi":0.15},{"lev":"a","o":12,"x":1750,"lo":-0.75,"hi":0.15},{"lev":"a","o":12,"x":1800,"lo":-0.8,"hi":0.2},{"lev":"a","o":12,"x":1840,"lo":-1.02,"hi":0.2},{"lev":"a","o":12,"x":1870,"lo":-0.7,"hi":0.25},{"lev":"a","o":12,"x":1900,"lo":-0.35,"hi":0.3},{"lev":"a","o":12,"x":1950,"lo":-0.1,"hi":0.45},{"lev":"a","o":12,"x":2000,"lo":0.1,"hi":0.55},
{"lev":"b","o":25,"x":800,"lo":0.0,"hi":0.22},{"lev":"b","o":25,"x":850,"lo":0.05,"hi":0.28},{"lev":"b","o":25,"x":900,"lo":0.0,"hi":0.22},{"lev":"b","o":25,"x":940,"lo":-0.03,"hi":0.2},{"lev":"b","o":25,"x":975,"lo":0.1,"hi":0.4},{"lev":"b","o":25,"x":1000,"lo":-0.3,"hi":0.22},{"lev":"b","o":25,"x":1050,"lo":-0.3,"hi":0.22},{"lev":"b","o":25,"x":1100,"lo":-0.3,"hi":0.15},{"lev":"b","o":25,"x":1150,"lo":-0.35,"hi":0.1},{"lev":"b","o":25,"x":1200,"lo":-0.35,"hi":0.15},{"lev":"b","o":25,"x":1250,"lo":-0.3,"hi":0.2},{"lev":"b","o":25,"x":1300,"lo":-0.25,"hi":0.2},{"lev":"b","o":25,"x":1350,"lo":-0.25,"hi":0.22},{"lev":"b","o":25,"x":1400,"lo":-0.2,"hi":0.15},{"lev":"b","o":25,"x":1460,"lo":-0.5,"hi":0.15},{"lev":"b","o":25,"x":1505,"lo":-0.4,"hi":0.1},{"lev":"b","o":25,"x":1515,"lo":-0.62,"hi":0.1},{"lev":"b","o":25,"x":1600,"lo":-0.62,"hi":0.05},{"lev":"b","o":25,"x":1650,"lo":-0.8,"hi":0.05},{"lev":"b","o":25,"x":1700,"lo":-0.65,"hi":0.05},{"lev":"b","o":25,"x":1750,"lo":-0.6,"hi":0.05},{"lev":"b","o":25,"x":1800,"lo":-0.6,"hi":0.1},{"lev":"b","o":25,"x":1840,"lo":-0.82,"hi":0.1},{"lev":"b","o":25,"x":1870,"lo":-0.55,"hi":0.15},{"lev":"b","o":25,"x":1900,"lo":-0.25,"hi":0.15},{"lev":"b","o":25,"x":1950,"lo":-0.05,"hi":0.35},{"lev":"b","o":25,"x":2000,"lo":0.15,"hi":0.48},
{"lev":"c","o":45,"x":1000,"lo":-0.2,"hi":0.1},{"lev":"c","o":45,"x":1100,"lo":-0.22,"hi":0.1},{"lev":"c","o":45,"x":1200,"lo":-0.22,"hi":0.1},{"lev":"c","o":45,"x":1300,"lo":-0.15,"hi":0.12},{"lev":"c","o":45,"x":1400,"lo":-0.15,"hi":0.05},{"lev":"c","o":45,"x":1450,"lo":-0.3,"hi":0.05},{"lev":"c","o":45,"x":1505,"lo":-0.25,"hi":0.0},{"lev":"c","o":45,"x":1615,"lo":-0.45,"hi":-0.05},{"lev":"c","o":45,"x":1700,"lo":-0.52,"hi":-0.05},{"lev":"c","o":45,"x":1800,"lo":-0.45,"hi":0.0},{"lev":"c","o":45,"x":1850,"lo":-0.5,"hi":0.0},{"lev":"c","o":45,"x":1900,"lo":-0.18,"hi":0.05},{"lev":"c","o":45,"x":1950,"lo":0.0,"hi":0.2},{"lev":"c","o":45,"x":2000,"lo":0.2,"hi":0.42},
{"lev":"d","o":60,"x":1615,"lo":-0.38,"hi":-0.12},{"lev":"d","o":60,"x":1700,"lo":-0.38,"hi":-0.15},{"lev":"d","o":60,"x":1800,"lo":-0.32,"hi":-0.1},{"lev":"d","o":60,"x":1880,"lo":-0.25,"hi":-0.05},{"lev":"d","o":60,"x":1920,"lo":-0.12,"hi":0.05},{"lev":"d","o":60,"x":1960,"lo":0.02,"hi":0.2},{"lev":"d","o":60,"x":1995,"lo":0.2,"hi":0.35}
],
"sh": [
{"s":"Mann08-eiv","x":800,"y":0.1},{"s":"Mann08-eiv","x":830,"y":0.12},{"s":"Mann08-eiv","x":850,"y":0.17},{"s":"Mann08-eiv","x":870,"y":0.22},{"s":"Mann08-eiv","x":890,"y":0.15},{"s":"Mann08-eiv","x":910,"y":0.12},{"s":"Mann08-eiv","x":925,"y":0.08},{"s":"Mann08-eiv","x":940,"y":0.03},{"s":"Mann08-eiv","x":960,"y":0.18},{"s":"Mann08-eiv","x":975,"y":0.28},{"s":"Mann08-eiv","x":990,"y":0.18},{"s":"Mann08-eiv","x":1010,"y":0.1},{"s":"Mann08-eiv","x":1030,"y":0.08},{"s":"Mann08-eiv","x":1050,"y":0.13},{"s":"Mann08-eiv","x":1070,"y":0.1},{"s":"Mann08-eiv","x":1090,"y":0},{"s":"Mann08-eiv","x":1110,"y":-0.15},{"s":"Mann08-eiv","x":1140,"y":-0.2},{"s":"Mann08-eiv","x":1170,"y":-0.27},{"s":"Mann08-eiv","x":1200,"y":-0.27},{"s":"Mann08-eiv","x":1220,"y":-0.25},{"s":"Mann08-eiv","x":1250,"y":-0.18},{"s":"Mann08-eiv","x":1280,"y":-0.15},{"s":"Mann08-eiv","x":1310,"y":-0.17},{"s":"Mann08-eiv","x":1340,"y":-0.15},{"s":"Mann08-eiv","x":1370,"y":-0.12},{"s":"Mann08-eiv","x":1400,"y":-0.07},{"s":"Mann08-eiv","x":1420,"y":-0.08},{"s":"Mann08-eiv","x":1440,"y":-0.2},{"s":"Mann08-eiv","x":1462,"y":-0.38},{"s":"Mann08-eiv","x":1490,"y":-0.28},{"s":"Mann08-eiv","x":1520,"y":-0.25},{"s":"Mann08-eiv","x":1550,"y":-0.28},{"s":"Mann08-eiv","x":1580,"y":-0.27},{"s":"Mann08-eiv","x":1600,"y":-0.25},{"s":"Mann08-eiv","x":1630,"y":-0.3},{"s":"Mann08-eiv","x":1660,"y":-0.28},{"s":"Mann08-eiv","x":1690,"y":-0.32},{"s":"Mann08-eiv","x":1720,"y":-0.3},{"s":"Mann08-eiv","x":1750,"y":-0.27},{"s":"Mann08-eiv","x":1780,"y":-0.22},{"s":"Mann08-eiv","x":1800,"y":-0.2},{"s":"Mann08-eiv","x":1830,"y":-0.18},{"s":"Mann08-eiv","x":1860,"y":-0.15},{"s":"Mann08-eiv","x":1890,"y":-0.1},{"s":"Mann08-eiv","x":1920,"y":-0.02},{"s":"Mann08-eiv","x":1950,"y":0.1},{"s":"Mann08-eiv","x":1990,"y":0.35},
{"s":"Mann08-cps","x":980,"y":-0.2},{"s":"Mann08-cps","x":1000,"y":-0.05},{"s":"Mann08-cps","x":1020,"y":-0.18},{"s":"Mann08-cps","x":1040,"y":-0.2},{"s":"Mann08-cps","x":1060,"y":-0.22},{"s":"Mann08-cps","x":1080,"y":-0.12},{"s":"Mann08-cps","x":1100,"y":-0.05},{"s":"Mann08-cps","x":1130,"y":0},{"s":"Mann08-cps","x":1160,"y":-0.03},{"s":"Mann08-cps","x":1190,"y":-0.05},{"s":"Mann08-cps","x":1220,"y":0},{"s":"Mann08-cps","x":1250,"y":0.05},{"s":"Mann08-cps","x":1280,"y":0},{"s":"Mann08-cps","x":1310,"y":0.05},{"s":"Mann08-cps","x":1340,"y":0.15},{"s":"Mann08-cps","x":1360,"y":0.05},{"s":"Mann08-cps","x":1380,"y":-0.05},{"s":"Mann08-cps","x":1400,"y":-0.1},{"s":"Mann08-cps","x":1420,"y":0},{"s":"Mann08-cps","x":1440,"y":-0.08},{"s":"Mann08-cps","x":1460,"y":-0.2},{"s":"Mann08-cps","x":1480,"y":-0.05},{"s":"Mann08-cps","x":1500,"y":-0.05},{"s":"Mann08-cps","x":1530,"y":-0.08},{"s":"Mann08-cps","x":1560,"y":-0.1},{"s":"Mann08-cps","x":1600,"y":-0.15},{"s":"Mann08-cps","x":1630,"y":-0.12},{"s":"Mann08-cps","x":1660,"y":-0.2},{"s":"Mann08-cps","x":1690,"y":-0.18},{"s":"Mann08-cps","x":1720,"y":-0.15},{"s":"Mann08-cps","x":1750,"y":-0.2},{"s":"Mann08-cps","x":1780,"y":-0.15},{"s":"Mann08-cps","x":1800,"y":-0.1},{"s":"Mann08-cps","x":1830,"y":-0.15},{"s":"Mann08-cps","x":1860,"y":-0.12},{"s":"Mann08-cps","x":1890,"y":-0.08},{"s":"Mann08-cps","x":1920,"y":-0.05},{"s":"Mann08-cps","x":1950,"y":0.1},{"s":"Mann08-cps","x":1990,"y":0.3},
{"s":"Jones98","x":1000,"y":-0.12},{"s":"Jones98","x":1010,"y":-0.05},{"s":"Jones98","x":1020,"y":0.02},{"s":"Jones98","x":1030,"y":-0.05},{"s":"Jones98","x":1045,"y":0},{"s":"Jones98","x":1060,"y":-0.12},{"s":"Jones98","x":1075,"y":-0.02},{"s":"Jones98","x":1090,"y":0.05},{"s":"Jones98","x":1105,"y":-0.05},{"s":"Jones98","x":1120,"y":0.02},{"s":"Jones98","x":1140,"y":0.05},{"s":"Jones98","x":1160,"y":0},{"s":"Jones98","x":1180,"y":0.03},{"s":"Jones98","x":1200,"y":-0.02},{"s":"Jones98","x":1220,"y":0.05},{"s":"Jones98","x":1240,"y":0},{"s":"Jones98","x":1260,"y":0.05},{"s":"Jones98","x":1280,"y":-0.02},{"s":"Jones98","x":1300,"y":0.03},{"s":"Jones98","x":1320,"y":-0.1},{"s":"Jones98","x":1340,"y":0},{"s":"Jones98","x":1360,"y":0.05},{"s":"Jones98","x":1380,"y":-0.03},{"s":"Jones98","x":1400,"y":-0.05},{"s":"Jones98","x":1420,"y":0.02},{"s":"Jones98","x":1440,"y":0},{"s":"Jones98","x":1460,"y":0.08},{"s":"Jones98","x":1475,"y":0.12},{"s":"Jones98","x":1490,"y":0.02},{"s":"Jones98","x":1510,"y":0},{"s":"Jones98","x":1530,"y":-0.02},{"s":"Jones98","x":1550,"y":-0.05},{"s":"Jones98","x":1570,"y":0},{"s":"Jones98","x":1590,"y":-0.1},{"s":"Jones98","x":1610,"y":-0.05},{"s":"Jones98","x":1630,"y":-0.02},{"s":"Jones98","x":1650,"y":-0.1},{"s":"Jones98","x":1670,"y":-0.05},{"s":"Jones98","x":1685,"y":-0.2},{"s":"Jones98","x":1700,"y":-0.1},{"s":"Jones98","x":1720,"y":-0.02},{"s":"Jones98","x":1740,"y":-0.12},{"s":"Jones98","x":1760,"y":-0.05},{"s":"Jones98","x":1780,"y":-0.15},{"s":"Jones98","x":1800,"y":0.03},{"s":"Jones98","x":1815,"y":0},{"s":"Jones98","x":1830,"y":-0.1},{"s":"Jones98","x":1850,"y":-0.05},{"s":"Jones98","x":1870,"y":0.02},{"s":"Jones98","x":1890,"y":-0.05},{"s":"Jones98","x":1905,"y":-0.15},{"s":"Jones98","x":1920,"y":-0.1},{"s":"Jones98","x":1940,"y":-0.02},{"s":"Jones98","x":1960,"y":0.05},{"s":"Jones98","x":1975,"y":0.15},{"s":"Jones98","x":1991,"y":0.25},
{"s":"Neukom14","x":1000,"y":0.05},{"s":"Neukom14","x":1030,"y":0.03},{"s":"Neukom14","x":1060,"y":0},{"s":"Neukom14","x":1090,"y":0.02},{"s":"Neukom14","x":1120,"y":0.03},{"s":"Neukom14","x":1150,"y":0.05},{"s":"Neukom14","x":1180,"y":0.03},{"s":"Neukom14","x":1210,"y":0},{"s":"Neukom14","x":1240,"y":0.08},{"s":"Neukom14","x":1270,"y":0.1},{"s":"Neukom14","x":1300,"y":0.05},{"s":"Neukom14","x":1330,"y":0.1},{"s":"Neukom14","x":1360,"y":0.05},{"s":"Neukom14","x":1390,"y":0.02},{"s":"Neukom14","x":1420,"y":0},{"s":"Neukom14","x":1450,"y":-0.02},{"s":"Neukom14","x":1480,"y":0},{"s":"Neukom14","x":1510,"y":0.02},{"s":"Neukom14","x":1540,"y":-0.02},{"s":"Neukom14","x":1570,"y":-0.05},{"s":"Neukom14","x":1600,"y":-0.05},{"s":"Neukom14","x":1630,"y":-0.08},{"s":"Neukom14","x":1660,"y":-0.1},{"s":"Neukom14","x":1690,"y":-0.12},{"s":"Neukom14","x":1720,"y":-0.1},{"s":"Neukom14","x":1750,"y":-0.08},{"s":"Neukom14","x":1780,"y":-0.05},{"s":"Neukom14","x":1810,"y":-0.05},{"s":"Neukom14","x":1840,"y":-0.05},{"s":"Neukom14","x":1870,"y":-0.07},{"s":"Neukom14","x":1900,"y":-0.08},{"s":"Neukom14","x":1930,"y":-0.05},{"s":"Neukom14","x":1960,"y":0.05},{"s":"Neukom14","x":1990,"y":0.2},{"s":"Neukom14","x":2000,"y":0.3},
{"s":"Leclerq11","x":1610,"y":-0.35},{"s":"Leclerq11","x":1630,"y":-0.3},{"s":"Leclerq11","x":1650,"y":-0.45},{"s":"Leclerq11","x":1673,"y":-0.53},{"s":"Leclerq11","x":1700,"y":-0.45},{"s":"Leclerq11","x":1730,"y":-0.38},{"s":"Leclerq11","x":1760,"y":-0.35},{"s":"Leclerq11","x":1790,"y":-0.33},{"s":"Leclerq11","x":1810,"y":-0.38},{"s":"Leclerq11","x":1833,"y":-0.6},{"s":"Leclerq11","x":1850,"y":-0.5},{"s":"Leclerq11","x":1870,"y":-0.3},{"s":"Leclerq11","x":1890,"y":-0.05},{"s":"Leclerq11","x":1910,"y":0.12},{"s":"Leclerq11","x":1935,"y":0.2},{"s":"Leclerq11","x":1955,"y":0.05},{"s":"Leclerq11","x":1975,"y":0.15},{"s":"Leclerq11","x":2000,"y":0.35},
{"s":"Huang00","x":1515,"y":-0.49},{"s":"Huang00","x":1600,"y":-0.47},{"s":"Huang00","x":1650,"y":-0.44},{"s":"Huang00","x":1700,"y":-0.4},{"s":"Huang00","x":1750,"y":-0.34},{"s":"Huang00","x":1800,"y":-0.26},{"s":"Huang00","x":1850,"y":-0.16},{"s":"Huang00","x":1900,"y":-0.04},{"s":"Huang00","x":1950,"y":0.1},{"s":"Huang00","x":1995,"y":0.3}
],
"glb": [
{"lev":"a","o":20,"x":800,"lo":0.02,"hi":0.35},{"lev":"a","o":20,"x":850,"lo":0.05,"hi":0.42},{"lev":"a","o":20,"x":900,"lo":0.0,"hi":0.3},{"lev":"a","o":20,"x":940,"lo":-0.02,"hi":0.3},{"lev":"a","o":20,"x":975,"lo":0.15,"hi":0.5},{"lev":"a","o":20,"x":1010,"lo":-0.12,"hi":0.38},{"lev":"a","o":20,"x":1050,"lo":0.0,"hi":0.38},{"lev":"a","o":20,"x":1100,"lo":-0.32,"hi":0.25},{"lev":"a","o":20,"x":1150,"lo":-0.3,"hi":0.12},{"lev":"a","o":20,"x":1200,"lo":-0.25,"hi":0.12},{"lev":"a","o":20,"x":1250,"lo":-0.25,"hi":0.12},{"lev":"a","o":20,"x":1300,"lo":-0.25,"hi":0.15},{"lev":"a","o":20,"x":1345,"lo":-0.35,"hi":0.12},{"lev":"a","o":20,"x":1380,"lo":-0.1,"hi":0.32},{"lev":"a","o":20,"x":1420,"lo":-0.2,"hi":0.2},{"lev":"a","o":20,"x":1460,"lo":-0.55,"hi":0.05},{"lev":"a","o":20,"x":1505,"lo":-0.4,"hi":0.05},{"lev":"a","o":20,"x":1515,"lo":-0.9,"hi":0.05},{"lev":"a","o":20,"x":1600,"lo":-0.88,"hi":0.0},{"lev":"a","o":20,"x":1700,"lo":-0.82,"hi":0.0},{"lev":"a","o":20,"x":1800,"lo":-0.7,"hi":0.05},{"lev":"a","o":20,"x":1850,"lo":-0.55,"hi":0.1},{"lev":"a","o":20,"x":1900,"lo":-0.35,"hi":0.2},{"lev":"a","o":20,"x":1950,"lo":-0.1,"hi":0.35},{"lev":"a","o":20,"x":2000,"lo":0.1,"hi":0.6},
{"lev":"b","o":38,"x":800,"lo":0.08,"hi":0.25},{"lev":"b","o":38,"x":850,"lo":0.12,"hi":0.32},{"lev":"b","o":38,"x":900,"lo":0.05,"hi":0.2},{"lev":"b","o":38,"x":940,"lo":0.02,"hi":0.22},{"lev":"b","o":38,"x":975,"lo":0.2,"hi":0.4},{"lev":"b","o":38,"x":1010,"lo":0.0,"hi":0.25},{"lev":"b","o":38,"x":1050,"lo":0.08,"hi":0.27},{"lev":"b","o":38,"x":1100,"lo":-0.22,"hi":0.1},{"lev":"b","o":38,"x":1150,"lo":-0.2,"hi":0.02},{"lev":"b","o":38,"x":1200,"lo":-0.15,"hi":0.02},{"lev":"b","o":38,"x":1250,"lo":-0.15,"hi":0.02},{"lev":"b","o":38,"x":1300,"lo":-0.15,"hi":0.05},{"lev":"b","o":38,"x":1345,"lo":-0.25,"hi":0.02},{"lev":"b","o":38,"x":1380,"lo":0.0,"hi":0.22},{"lev":"b","o":38,"x":1420,"lo":-0.1,"hi":0.1},{"lev":"b","o":38,"x":1460,"lo":-0.42,"hi":-0.05},{"lev":"b","o":38,"x":1505,"lo":-0.3,"hi":-0.05},{"lev":"b","o":38,"x":1515,"lo":-0.75,"hi":-0.05},{"lev":"b","o":38,"x":1600,"lo":-0.72,"hi":-0.1},{"lev":"b","o":38,"x":1700,"lo":-0.65,"hi":-0.1},{"lev":"b","o":38,"x":1800,"lo":-0.55,"hi":-0.05},{"lev":"b","o":38,"x":1850,"lo":-0.42,"hi":0.0},{"lev":"b","o":38,"x":1900,"lo":-0.25,"hi":0.1},{"lev":"b","o":38,"x":1950,"lo":0.0,"hi":0.25},{"lev":"b","o":38,"x":2000,"lo":0.2,"hi":0.5},
{"lev":"c","o":66,"x":1612,"lo":-0.45,"hi":-0.2},{"lev":"c","o":66,"x":1650,"lo":-0.45,"hi":-0.2},{"lev":"c","o":66,"x":1700,"lo":-0.42,"hi":-0.2},{"lev":"c","o":66,"x":1750,"lo":-0.4,"hi":-0.15},{"lev":"c","o":66,"x":1800,"lo":-0.4,"hi":-0.12},{"lev":"c","o":66,"x":1850,"lo":-0.35,"hi":-0.12},{"lev":"c","o":66,"x":1900,"lo":-0.2,"hi":-0.05},{"lev":"c","o":66,"x":1950,"lo":0.05,"hi":0.2},{"lev":"c","o":66,"x":1990,"lo":0.15,"hi":0.3}
],
"gl": [
{"s":"Mann08-eiv","x":800,"y":0.15},{"s":"Mann08-eiv","x":830,"y":0.17},{"s":"Mann08-eiv","x":860,"y":0.26},{"s":"Mann08-eiv","x":880,"y":0.15},{"s":"Mann08-eiv","x":900,"y":0.1},{"s":"Mann08-eiv","x":920,"y":0.03},{"s":"Mann08-eiv","x":950,"y":0.08},{"s":"Mann08-eiv","x":975,"y":0.32},{"s":"Mann08-eiv","x":1000,"y":0.15},{"s":"Mann08-eiv","x":1020,"y":0.12},{"s":"Mann08-eiv","x":1050,"y":0.17},{"s":"Mann08-eiv","x":1080,"y":0.1},{"s":"Mann08-eiv","x":1100,"y":-0.15},{"s":"Mann08-eiv","x":1120,"y":-0.12},{"s":"Mann08-eiv","x":1150,"y":-0.12},{"s":"Mann08-eiv","x":1180,"y":-0.08},{"s":"Mann08-eiv","x":1200,"y":-0.05},{"s":"Mann08-eiv","x":1230,"y":0.02},{"s":"Mann08-eiv","x":1250,"y":-0.05},{"s":"Mann08-eiv","x":1280,"y":-0.12},{"s":"Mann08-eiv","x":1310,"y":-0.05},{"s":"Mann08-eiv","x":1330,"y":-0.02},{"s":"Mann08-eiv","x":1345,"y":-0.2},{"s":"Mann08-eiv","x":1365,"y":-0.05},{"s":"Mann08-eiv","x":1380,"y":0.15},{"s":"Mann08-eiv","x":1400,"y":0.02},{"s":"Mann08-eiv","x":1420,"y":-0.05},{"s":"Mann08-eiv","x":1440,"y":-0.18},{"s":"Mann08-eiv","x":1460,"y":-0.3},{"s":"Mann08-eiv","x":1480,"y":-0.15},{"s":"Mann08-eiv","x":1500,"y":-0.2},{"s":"Mann08-eiv","x":1520,"y":-0.12},{"s":"Mann08-eiv","x":1550,"y":-0.2},{"s":"Mann08-eiv","x":1580,"y":-0.28},{"s":"Mann08-eiv","x":1600,"y":-0.3},{"s":"Mann08-eiv","x":1620,"y":-0.17},{"s":"Mann08-eiv","x":1640,"y":-0.22},{"s":"Mann08-eiv","x":1660,"y":-0.3},{"s":"Mann08-eiv","x":1680,"y":-0.35},{"s":"Mann08-eiv","x":1700,"y":-0.32},{"s":"Mann08-eiv","x":1730,"y":-0.28},{"s":"Mann08-eiv","x":1760,"y":-0.3},{"s":"Mann08-eiv","x":1790,"y":-0.25},{"s":"Mann08-eiv","x":1810,"y":-0.32},{"s":"Mann08-eiv","x":1830,"y":-0.25},{"s":"Mann08-eiv","x":1860,"y":-0.2},{"s":"Mann08-eiv","x":1890,"y":-0.15},{"s":"Mann08-eiv","x":1910,"y":-0.12},{"s":"Mann08-eiv","x":1940,"y":-0.02},{"s":"Mann08-eiv","x":1970,"y":0.05},{"s":"Mann08-eiv","x":1985,"y":0.15},{"s":"Mann08-eiv","x":2000,"y":0.4},
{"s":"Hybrid","x":1010,"y":-0.01},{"s":"Hybrid","x":1030,"y":0.04},{"s":"Hybrid","x":1060,"y":-0.02},{"s":"Hybrid","x":1090,"y":-0.02},{"s":"Hybrid","x":1110,"y":-0.05},{"s":"Hybrid","x":1135,"y":-0.1},{"s":"Hybrid","x":1170,"y":-0.06},{"s":"Hybrid","x":1195,"y":-0.1},{"s":"Hybrid","x":1220,"y":-0.08},{"s":"Hybrid","x":1250,"y":-0.07},{"s":"Hybrid","x":1280,"y":-0.1},{"s":"Hybrid","x":1310,"y":-0.08},{"s":"Hybrid","x":1330,"y":-0.03},{"s":"Hybrid","x":1350,"y":-0.1},{"s":"Hybrid","x":1380,"y":-0.07},{"s":"Hybrid","x":1410,"y":-0.08},{"s":"Hybrid","x":1440,"y":-0.15},{"s":"Hybrid","x":1470,"y":-0.12},{"s":"Hybrid","x":1500,"y":-0.15},{"s":"Hybrid","x":1530,"y":-0.12},{"s":"Hybrid","x":1560,"y":-0.15},{"s":"Hybrid","x":1590,"y":-0.25},{"s":"Hybrid","x":1610,"y":-0.25},{"s":"Hybrid","x":1640,"y":-0.24},{"s":"Hybrid","x":1670,"y":-0.22},{"s":"Hybrid","x":1700,"y":-0.2},{"s":"Hybrid","x":1730,"y":-0.17},{"s":"Hybrid","x":1760,"y":-0.12},{"s":"Hybrid","x":1790,"y":-0.1},{"s":"Hybrid","x":1810,"y":-0.12},{"s":"Hybrid","x":1840,"y":-0.18},{"s":"Hybrid","x":1860,"y":-0.2},{"s":"Hybrid","x":1880,"y":-0.12},{"s":"Hybrid","x":1900,"y":-0.1},{"s":"Hybrid","x":1920,"y":0},{"s":"Hybrid","x":1940,"y":0.12},{"s":"Hybrid","x":1960,"y":0.2},{"s":"Hybrid","x":1975,"y":0.1},{"s":"Hybrid","x":2000,"y":0.25},
{"s":"Leclerq11","x":1610,"y":-0.3},{"s":"Leclerq11","x":1630,"y":-0.25},{"s":"Leclerq11","x":1660,"y":-0.15},{"s":"Leclerq11","x":1680,"y":-0.3},{"s":"Leclerq11","x":1710,"y":-0.3},{"s":"Leclerq11","x":1740,"y":-0.3},{"s":"Leclerq11","x":1770,"y":-0.22},{"s":"Leclerq11","x":1800,"y":-0.25},{"s":"Leclerq11","x":1830,"y":-0.3},{"s":"Leclerq11","x":1850,"y":-0.37},{"s":"Leclerq11","x":1870,"y":-0.3},{"s":"Leclerq11","x":1900,"y":-0.12},{"s":"Leclerq11","x":1930,"y":0.1},{"s":"Leclerq11","x":1950,"y":0.25},{"s":"Leclerq11","x":1970,"y":0.15},{"s":"Leclerq11","x":2000,"y":0.25},
{"s":"Huang00","x":1515,"y":-0.58},{"s":"Huang00","x":1600,"y":-0.56},{"s":"Huang00","x":1650,"y":-0.53},{"s":"Huang00","x":1700,"y":-0.49},{"s":"Huang00","x":1750,"y":-0.43},{"s":"Huang00","x":1800,"y":-0.35},{"s":"Huang00","x":1850,"y":-0.24},{"s":"Huang00","x":1900,"y":-0.1},{"s":"Huang00","x":1950,"y":0.08},{"s":"Huang00","x":1995,"y":0.3}
]
},
"spacing": 14,
"bounds": "flush",
"resolve": {"scale": {"color": "independent"}, "legend": {"color": "independent"}},
"vconcat": [
{
  "width": 350, "height": 246,
  "title": {"text": "a)", "orient": "bottom", "anchor": "start", "frame": "group", "fontSize": 25, "fontWeight": "bold", "baseline": "alphabetic", "offset": -199, "dx": 8},
  "resolve": {"scale": {"color": "independent"}, "legend": {"color": "independent"}},
  "layer": [
    {"data": {"name": "nhb"}, "mark": {"type": "area", "clip": true},
     "encoding": {
      "x": {"field": "x", "type": "quantitative", "scale": {"domain": [800, 2000], "nice": false, "zero": false},
        "axis": {"orient": "bottom", "values": [800,1000,1200,1400,1600,1800,2000], "labels": false, "title": "NH", "titleX": 31, "titleY": -15, "titleAngle": 0, "titleAlign": "left", "titleBaseline": "alphabetic", "titleFontSize": 25}},
      "y": {"field": "lo", "type": "quantitative", "scale": {"domain": [-1.5, 1.5], "nice": false, "zero": false},
        "axis": {"orient": "left", "values": [-1.5,-1,-0.5,0,0.5,1,1.5], "format": "~g", "labelPadding": 19, "labelExpr": "replace(datum.label, '\u2212', '-')",
          "title": "Temperature anomalies (K, wrt 1850-1990 AD)", "titleX": -84, "titleY": 220, "titleAngle": 270, "titleAlign": "center", "titleBaseline": "top", "titleFontSize": 19.3}},
      "y2": {"field": "hi"},
      "detail": {"field": "lev"},
      "color": {"field": "o", "type": "quantitative",
        "scale": {"domain": [-0.01,10,20,30,40,50,60,70,80,90,100.01], "range": ["#ffffff","#e6e6e6","#cfcfcf","#b2b2b2","#999999","#808080","#6a6a6a","#525252","#363636","#1e1e1e","#000000"]},
        "legend": {"orient": "none", "legendX": 401, "legendY": -33, "direction": "horizontal", "gradientLength": 348, "gradientThickness": 22,
          "gradientStrokeColor": "black", "gradientStrokeWidth": 1.5, "values": [0,20,40,60,80,100], "labelFontSize": 19.5, "labelOffset": 8, "labelOverlap": false,
          "title": "Overlap of reconstructed temperatures (%)", "titleOrient": "bottom", "titleFontSize": 19.5, "titleFontWeight": "normal", "titlePadding": 7, "titleAnchor": "start", "titleLimit": 600, "padding": 0}}
     }},
    {"data": {"name": "nh"}, "mark": {"type": "line", "strokeWidth": 1.4, "clip": true},
     "encoding": {
      "x": {"field": "x", "type": "quantitative",
        "axis": {"orient": "top", "values": [800,1000,1200,1400,1600,1800,2000], "format": "d", "labelPadding": 17, "title": "Year", "titleX": 163, "titleY": -44, "titleBaseline": "alphabetic", "titleAlign": "center"}},
      "y": {"field": "y", "type": "quantitative", "axis": {"orient": "right", "values": [-1.5,-1,-0.5,0,0.5,1,1.5], "labels": false, "title": null}},
      "color": {"field": "s", "type": "nominal",
        "scale": {"domain": ["Ammann07","Briffa01","Christiansen12","D’Arrigo06","Frank07","Hegerl07","Huang04","Juckes07","Leclerq11","Ljungqvist11","Loehle08","Mann08-cps","Mann08-eiv","Mann09","Moberg05","Shi13"],
          "range": ["#ee1111","#1a7a1a","#ff9900","#669922","#cccc66","#66cc99","#ff99cc","#aa3366","#aa7722","#ee44dd","#cc3333","#99ccff","#6699ff","#4444dd","#dd00ff","#22ee22"]},
        "legend": {"orient": "none", "legendX": 358, "legendY": 57, "columns": 2, "title": null, "symbolType": "stroke", "symbolSize": 500, "symbolStrokeWidth": 1.5,
          "labelFontSize": 17.5, "labelAlign": "right", "labelOffset": -39.4, "symbolOffset": 139, "columnPadding": -5, "rowPadding": 1.5, "padding": 5,
          "strokeColor": "black", "fillColor": "white", "labelLimit": 400}}
     }}
  ]
},
{
  "hconcat": [
  {
    "width": 350, "height": 248,
    "title": {"text": "b)", "orient": "top", "anchor": "start", "frame": "group", "fontSize": 25, "fontWeight": "bold", "baseline": "alphabetic", "offset": -247, "dx": 12},
    "resolve": {"scale": {"color": "independent"}, "legend": {"color": "independent"}},
    "layer": [
      {"data": {"name": "shb"}, "mark": {"type": "area", "clip": true},
       "encoding": {
        "x": {"field": "x", "type": "quantitative", "scale": {"domain": [800, 2000], "nice": false, "zero": false},
          "axis": {"orient": "bottom", "values": [800,1000,1200,1400,1600,1800,2000], "format": "d", "labelExpr": "datum.value == 2000 ? '' : datum.label", "labelPadding": 8.5, "title": "Year", "titleX": 145, "titleY": 43, "titleBaseline": "alphabetic", "titleAlign": "center"}},
        "y": {"field": "lo", "type": "quantitative", "scale": {"domain": [-1.5, 1.5], "nice": false, "zero": false},
          "axis": {"orient": "left", "values": [-1.5,-1,-0.5,0,0.5,1], "format": "~g", "labelPadding": 19, "labelExpr": "replace(datum.label, '\u2212', '-')", "title": null}},
        "y2": {"field": "hi"},
        "detail": {"field": "lev"},
        "color": {"field": "o", "type": "quantitative",
          "scale": {"domain": [0,10,20,30,40,50,60,70,80,90,100], "range": ["#ffffff","#e6e6e6","#cfcfcf","#b2b2b2","#999999","#808080","#6a6a6a","#525252","#363636","#1e1e1e","#000000"]},
          "legend": null}
       }},
      {"data": {"name": "sh"}, "mark": {"type": "line", "strokeWidth": 1.4, "clip": true},
       "encoding": {
        "x": {"field": "x", "type": "quantitative",
          "axis": {"orient": "top", "values": [800,1000,1200,1400,1600,1800,2000], "labels": false, "title": "SH", "titleX": 36, "titleY": 223, "titleAngle": 0, "titleAlign": "left", "titleBaseline": "alphabetic", "titleFontSize": 25}},
        "y": {"field": "y", "type": "quantitative", "axis": {"orient": "right", "values": [-1.5,-1,-0.5,0,0.5,1,1.5], "labels": false, "title": null}},
        "color": {"field": "s", "type": "nominal",
          "scale": {"domain": ["Huang00","Leclerq11","Jones98","Mann08-cps","Mann08-eiv","Neukom14"], "range": ["#ff99cc","#996611","#ff0000","#99ccff","#6699ee","#cc9911"]},
          "legend": {"orient": "none", "legendX": 27, "legendY": 10, "columns": 2, "title": null, "symbolType": "stroke", "symbolSize": 500, "symbolStrokeWidth": 1.5,
            "labelFontSize": 17.5, "labelAlign": "right", "labelOffset": -35.4, "symbolOffset": 93, "columnPadding": 38, "rowPadding": 1, "padding": 4,
            "strokeColor": "black", "fillColor": "white", "labelLimit": 400}}
       }}
    ]
  },
  {
    "width": 351, "height": 248,
    "title": {"text": "c)", "orient": "top", "anchor": "start", "frame": "group", "fontSize": 25, "fontWeight": "bold", "baseline": "alphabetic", "offset": -266, "dx": 26},
    "resolve": {"scale": {"color": "independent"}, "legend": {"color": "independent"}},
    "layer": [
      {"data": {"name": "glb"}, "mark": {"type": "area", "clip": true},
       "encoding": {
        "x": {"field": "x", "type": "quantitative", "scale": {"domain": [800, 2000], "nice": false, "zero": false},
          "axis": {"orient": "bottom", "values": [800,1000,1200,1400,1600,1800,2000], "format": "d", "labelPadding": 8.5, "title": "Year", "titleX": 183, "titleY": 43, "titleBaseline": "alphabetic", "titleAlign": "center"}},
        "y": {"field": "lo", "type": "quantitative", "scale": {"domain": [-1.5, 1.5], "nice": false, "zero": false},
          "axis": {"orient": "left", "values": [-1.5,-1,-0.5,0,0.5,1,1.5], "labels": false, "title": null}},
        "y2": {"field": "hi"},
        "detail": {"field": "lev"},
        "color": {"field": "o", "type": "quantitative",
          "scale": {"domain": [0,10,20,30,40,50,60,70,80,90,100], "range": ["#ffffff","#e6e6e6","#cfcfcf","#b2b2b2","#999999","#808080","#6a6a6a","#525252","#363636","#1e1e1e","#000000"]},
          "legend": null}
       }},
      {"data": {"name": "gl"}, "mark": {"type": "line", "strokeWidth": 1.4, "clip": true},
       "encoding": {
        "x": {"field": "x", "type": "quantitative",
          "axis": {"orient": "top", "values": [800,1000,1200,1400,1600,1800,2000], "labels": false, "title": "GL", "titleX": 49, "titleY": 234, "titleAngle": 0, "titleAlign": "left", "titleBaseline": "alphabetic", "titleFontSize": 25}},
        "y": {"field": "y", "type": "quantitative",
          "axis": {"orient": "right", "values": [-1.5,-1,-0.5,0,0.5,1,1.5], "format": "~g", "labelPadding": 26, "labelExpr": "replace(datum.label, '\u2212', '-')",
            "title": ["Temperature anomalies", "(K, wrt 1850-1990 AD)"], "titleX": 64, "titleY": 124, "titleAngle": 270, "titleAlign": "center", "titleBaseline": "top", "titleLineHeight": 27}},
        "color": {"field": "s", "type": "nominal",
          "scale": {"domain": ["Huang00","Leclerq11","Mann08-eiv"," ","Hybrid","  "], "range": ["#ff88bb","#996611","#6699ee","#ffffff","#33bb33","#ffffff"]},
          "legend": {"orient": "none", "legendX": 45, "legendY": 10, "columns": 2, "title": null, "symbolType": "stroke", "symbolSize": 500, "symbolStrokeWidth": 1.5,
            "labelFontSize": 17.5, "labelAlign": "right", "labelOffset": -34.4, "symbolOffset": 108, "columnPadding": 0, "rowPadding": 1, "padding": 4,
            "strokeColor": "black", "fillColor": "white", "labelLimit": 400}}
       }}
    ]
  }
  ],
  "spacing": 4,
  "bounds": "flush",
  "resolve": {"scale": {"color": "independent"}, "legend": {"color": "independent"}}
}
]
}
